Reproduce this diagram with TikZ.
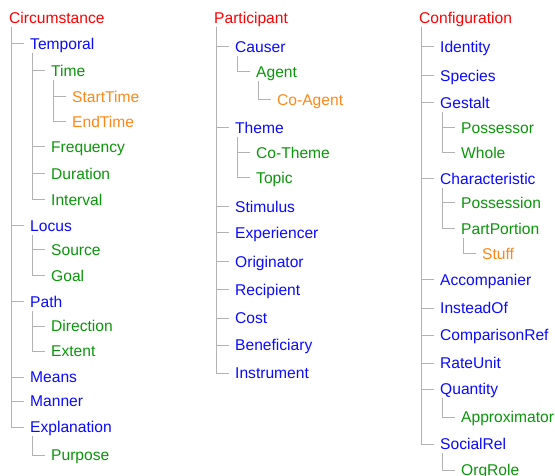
\documentclass[tikz,border=0pt]{standalone}
\usepackage{fontspec}
\setmainfont{Liberation Sans}
\definecolor{topred}{RGB}{255,0,0}
\definecolor{roleblue}{RGB}{10,10,255}
\definecolor{subgreen}{RGB}{10,150,10}
\definecolor{leaforange}{RGB}{255,135,25}
\tikzset{
  label/.style={anchor=west, inner sep=0pt, text height=11pt, text depth=0pt,
    font=\fontsize{15.6}{18}\selectfont},
  top/.style={label, text=topred},
  role/.style={label, text=roleblue},
  sub/.style={label, text=subgreen},
  leaf/.style={label, text=leaforange},
  link/.style={draw=black!30, line width=1pt}
}
\begin{document}
\begin{tikzpicture}[x=1pt,y=-1pt]
  \useasboundingbox (0,0) rectangle (555,476);
  % Circumstance
  \node[top] (circ) at (9,18) {Circumstance};
  \node[role] (temporal) at (30,44) {Temporal};
  \node[sub] (time) at (51,71) {Time};
  \node[leaf] (starttime) at (72,97) {StartTime};
  \node[leaf] (endtime) at (72,122) {EndTime};
  \node[sub] (frequency) at (51,147) {Frequency};
  \node[sub] (duration) at (51,174) {Duration};
  \node[sub] (interval) at (51,200) {Interval};
  \node[role] (locus) at (30,226) {Locus};
  \node[sub] (source) at (51,250) {Source};
  \node[sub] (goal) at (51,276) {Goal};
  \node[role] (path) at (30,302) {Path};
  \node[sub] (direction) at (51,326) {Direction};
  \node[sub] (extent) at (51,351) {Extent};
  \node[role] (means) at (30,377) {Means};
  \node[role] (manner) at (30,401) {Manner};
  \node[role] (explanation) at (30,427) {Explanation};
  \node[sub] (purpose) at (51,455) {Purpose};
  % Participant
  \node[top] (part) at (214,18) {Participant};
  \node[role] (causer) at (235,47) {Causer};
  \node[sub] (agent) at (256,72) {Agent};
  \node[leaf] (coagent) at (277,100) {Co-Agent};
  \node[role] (theme) at (235,128) {Theme};
  \node[sub] (cotheme) at (256,153) {Co-Theme};
  \node[sub] (topic) at (256,178) {Topic};
  \node[role] (stimulus) at (235,207) {Stimulus};
  \node[role] (experiencer) at (235,233) {Experiencer};
  \node[role] (originator) at (235,262) {Originator};
  \node[role] (recipient) at (235,290) {Recipient};
  \node[role] (cost) at (235,318) {Cost};
  \node[role] (beneficiary) at (235,345) {Beneficiary};
  \node[role] (instrument) at (235,373) {Instrument};
  % Configuration
  \node[top] (conf) at (419,18) {Configuration};
  \node[role] (identity) at (440,47) {Identity};
  \node[role] (species) at (440,76) {Species};
  \node[role] (gestalt) at (440,103) {Gestalt};
  \node[sub] (possessor) at (461,128) {Possessor};
  \node[sub] (whole) at (461,153) {Whole};
  \node[role] (characteristic) at (440,179) {Characteristic};
  \node[sub] (possession) at (461,203) {Possession};
  \node[sub] (partportion) at (461,229) {PartPortion};
  \node[leaf] (stuff) at (482,254) {Stuff};
  \node[role] (accompanier) at (440,280) {Accompanier};
  \node[role] (insteadof) at (440,308) {InsteadOf};
  \node[role] (comparisonref) at (440,335) {ComparisonRef};
  \node[role] (rateunit) at (440,363) {RateUnit};
  \node[role] (quantity) at (440,389) {Quantity};
  \node[sub] (approximator) at (461,417) {Approximator};
  \node[role] (socialrel) at (440,444) {SocialRel};
  \node[sub] (orgrole) at (461,470) {OrgRole};
  % tree lines
  \foreach \p/\c in {circ/temporal, temporal/time, time/starttime, time/endtime,
      temporal/frequency, temporal/duration, temporal/interval, circ/locus,
      locus/source, locus/goal, circ/path, path/direction, path/extent,
      circ/means, circ/manner, circ/explanation, explanation/purpose,
      part/causer, causer/agent, agent/coagent, part/theme, theme/cotheme,
      theme/topic, part/stimulus, part/experiencer, part/originator,
      part/recipient, part/cost, part/beneficiary, part/instrument,
      conf/identity, conf/species, conf/gestalt, gestalt/possessor,
      gestalt/whole, conf/characteristic, characteristic/possession,
      characteristic/partportion, partportion/stuff, conf/accompanier,
      conf/insteadof, conf/comparisonref, conf/rateunit, conf/quantity,
      quantity/approximator, conf/socialrel, socialrel/orgrole}
    \draw[link] ([xshift=2pt,yshift=-3pt]\p.south west) |- ([xshift=-6pt]\c.west);
\end{tikzpicture}
\end{document}
